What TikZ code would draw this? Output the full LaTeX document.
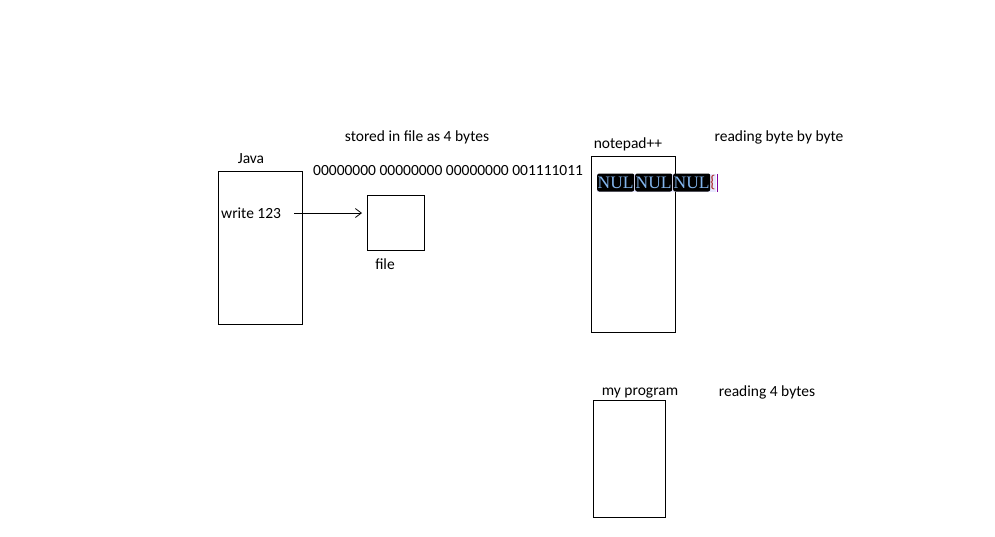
\documentclass[tikz,border=0pt]{standalone}
\usepackage{fontspec}
\setmainfont{Carlito}
\newfontfamily\nulfont{Liberation Serif}
\usetikzlibrary{arrows.meta,positioning}
\definecolor{nulblue}{RGB}{130,180,235}
\definecolor{selbg}{RGB}{232,232,255}
\definecolor{bracered}{RGB}{170,40,40}
\definecolor{caretpurple}{RGB}{128,0,160}

\begin{document}
\begin{tikzpicture}[
        x=1pt,y=-1pt,
        box/.style={draw,line width=1pt,anchor=north west,inner sep=0pt},
        lbl/.style={font=\fontsize{15.5}{18}\selectfont,inner sep=0pt},
        nul/.style={fill=black,rounded corners=2pt,text=nulblue,font=\nulfont\fontsize{17.5}{19}\selectfont,inner sep=0pt,minimum width=37pt,minimum height=18pt,anchor=west}
    ]
    \useasboundingbox (0,0) rectangle (995,536);
    % boxes
    \node[box,minimum width=84pt,minimum height=153pt] (java) at (218,171) {};
    \node[box,minimum width=57pt,minimum height=55pt] (file) at (367,195) {};
    \node[box,minimum width=84pt,minimum height=176pt] (notepad) at (591,156) {};
    \node[box,minimum width=72pt,minimum height=117pt] (prog) at (593,400) {};
    % labels
    \node[lbl] (javalbl) at (251,159) {Java};
    \node[lbl,anchor=west] (write) at (221,213) {write 123};
    \node[lbl] (filelbl) at (385,264) {file};
    \node[lbl] (stored) at (417,137) {stored in file as 4 bytes};
    \node[lbl,anchor=west] (bits) at (313,171) {00000000 00000000 00000000 001111011};
    \node[lbl] (nplbl) at (628,144) {notepad++};
    \node[lbl] (bytebybyte) at (779,137) {reading byte by byte};
    \node[lbl] (proglbl) at (640,393) {my program};
    \node[lbl] (fourbytes) at (767,392) {reading 4 bytes};
    % notepad++ view
    \fill[selbg] (597,174) rectangle (716,192);
    \node[nul] (n1) at (597,182.5) {NUL};
    \node[nul] (n2) at (635,182.5) {NUL};
    \node[nul] (n3) at (673,182.5) {NUL};
    \node[lbl,text=bracered,anchor=west,font=\fontsize{17}{19}\selectfont] (brace) at (710,182.5) {\{};
    \draw[caretpurple,line width=1pt] (717,174) -- (717,192);
    % write arrow
    \draw[line width=0.8pt,-{Straight Barb[length=6pt,width=9pt]},shorten <=13pt,shorten >=5pt] (write.east) -- (write.east -| file.west);
\end{tikzpicture}
\end{document}
